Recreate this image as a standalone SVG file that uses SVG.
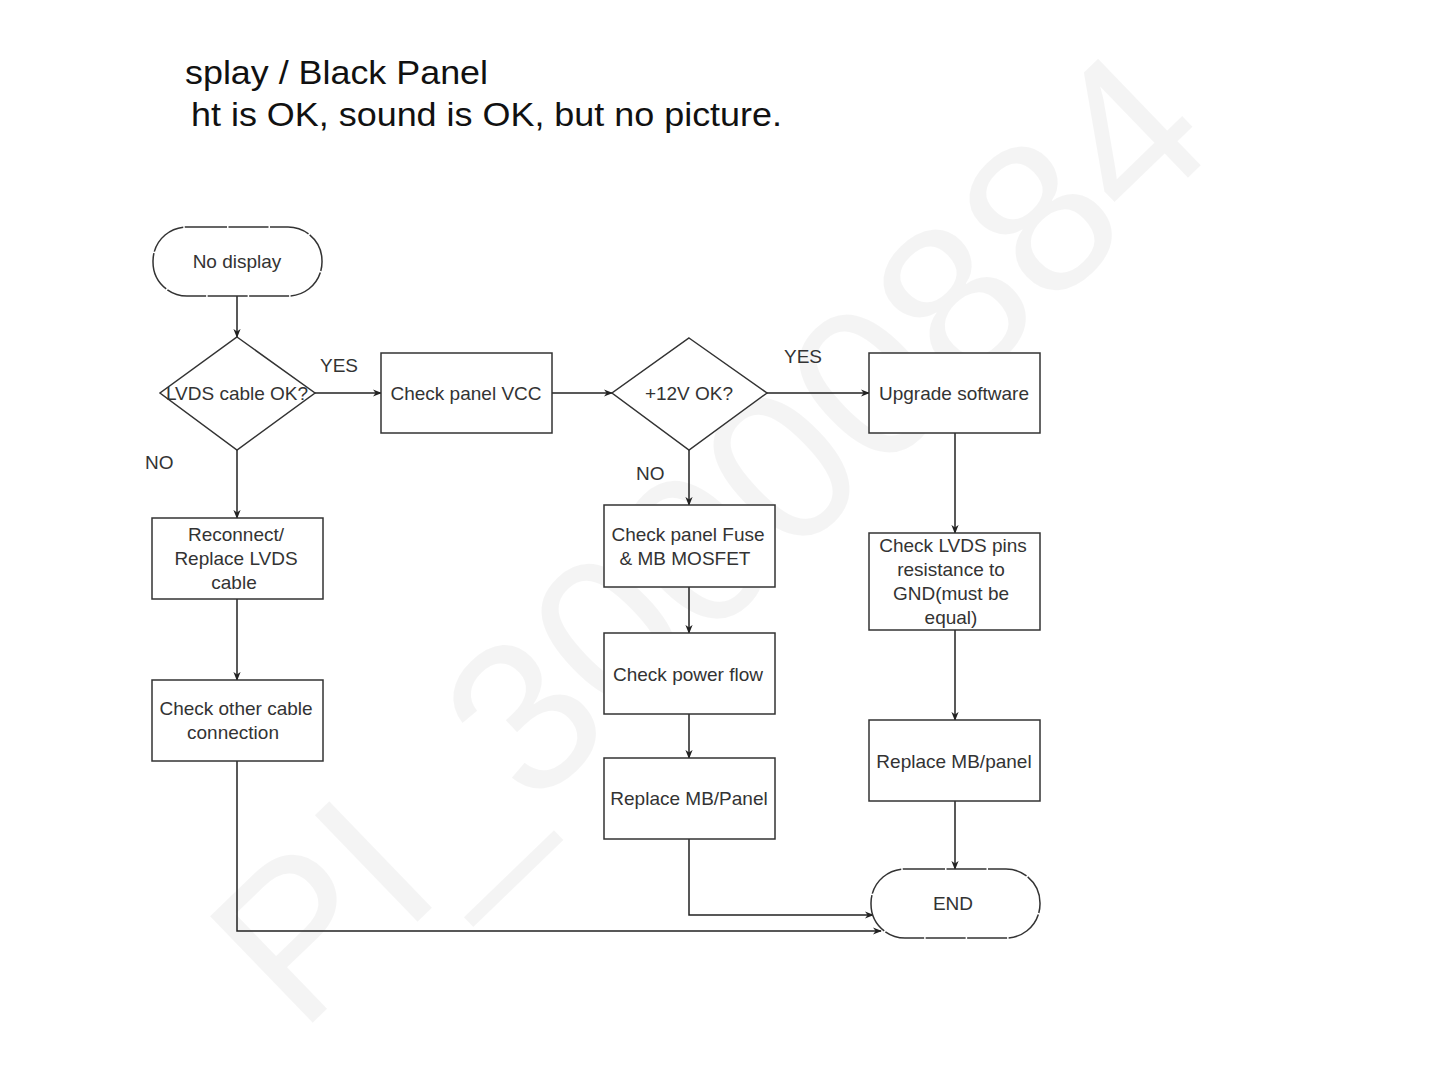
<svg xmlns="http://www.w3.org/2000/svg" width="1440" height="1080" viewBox="0 0 1440 1080">
<defs>
<marker id="arr" viewBox="0 0 10 10" refX="9" refY="5" markerWidth="9" markerHeight="9" markerUnits="userSpaceOnUse" orient="auto">
<path d="M0,1 L10,5 L0,9 L3,5 Z" fill="#222"/>
</marker>
<style>
.box{fill:#fff;stroke:#333;stroke-width:1.5}
.term{fill:#fff;stroke:#333;stroke-width:1.5;stroke-dasharray:40 1.5}
.t{font-family:"Liberation Sans",Arial,sans-serif;font-size:19px;fill:#333;text-anchor:middle}
.lbl{font-family:"Liberation Sans",Arial,sans-serif;font-size:19px;fill:#333}
.c{fill:none;stroke:#222;stroke-width:1.5}
.title{font-family:"Liberation Sans",Arial,sans-serif;font-size:34px;fill:#111}
</style>
</defs>
<rect width="1440" height="1080" fill="#fff"/>
<text x="300" y="1035" transform="rotate(-44 300 1035)" font-family="Liberation Sans,Arial,sans-serif" font-size="215" fill="#000" fill-opacity="0.045">PI_30000884</text>
<text class="title" x="185" y="84" textLength="303" lengthAdjust="spacingAndGlyphs">splay / Black Panel</text>
<text class="title" x="191" y="126" textLength="591" lengthAdjust="spacingAndGlyphs">ht is OK, sound is OK, but no picture.</text>

<g id="connectors">
<path class="c" d="M237,296 V337" marker-end="url(#arr)"/>
<path class="c" d="M315,393 H381" marker-end="url(#arr)"/>
<path class="c" d="M552,393 H612" marker-end="url(#arr)"/>
<path class="c" d="M767,393 H869" marker-end="url(#arr)"/>
<path class="c" d="M237,450 V518" marker-end="url(#arr)"/>
<path class="c" d="M237,599 V680" marker-end="url(#arr)"/>
<path class="c" d="M237,761 V931 H881" marker-end="url(#arr)"/>
<path class="c" d="M689,450 V505" marker-end="url(#arr)"/>
<path class="c" d="M689,587 V633" marker-end="url(#arr)"/>
<path class="c" d="M689,714 V758" marker-end="url(#arr)"/>
<path class="c" d="M689,839 V915 H873" marker-end="url(#arr)"/>
<path class="c" d="M955,433 V533" marker-end="url(#arr)"/>
<path class="c" d="M955,630 V720" marker-end="url(#arr)"/>
<path class="c" d="M955,801 V869" marker-end="url(#arr)"/>
<text class="lbl" x="320" y="372">YES</text>
<text class="lbl" x="784" y="363">YES</text>
<text class="lbl" x="145" y="469">NO</text>
<text class="lbl" x="636" y="480">NO</text>
</g>

<g id="n-start">
<rect class="term" x="153" y="227" width="169" height="69" rx="34" ry="34"/>
<text class="t" x="237" y="268">No display</text>
</g>
<g id="n-lvds">
<path class="box" d="M237,337 L315,393 L237,450 L160,393 Z"/>
<text class="t" x="237" y="400">LVDS cable OK?</text>
</g>
<g id="n-vcc">
<rect class="box" x="381" y="353" width="171" height="80"/>
<text class="t" x="466" y="400">Check panel VCC</text>
</g>
<g id="n-12v">
<path class="box" d="M689,338 L767,393 L689,450 L612,393 Z"/>
<text class="t" x="689" y="400">+12V OK?</text>
</g>
<g id="n-upgrade">
<rect class="box" x="869" y="353" width="171" height="80"/>
<text class="t" x="954" y="400">Upgrade software</text>
</g>
<g id="n-reconnect">
<rect class="box" x="152" y="518" width="171" height="81"/>
<text class="t" x="236" y="541">Reconnect/</text>
<text class="t" x="236" y="565">Replace LVDS</text>
<text class="t" x="234" y="589">cable</text>
</g>
<g id="n-other">
<rect class="box" x="152" y="680" width="171" height="81"/>
<text class="t" x="236" y="715">Check other cable</text>
<text class="t" x="233" y="739">connection</text>
</g>
<g id="n-fuse">
<rect class="box" x="604" y="505" width="171" height="82"/>
<text class="t" x="688" y="541">Check panel Fuse</text>
<text class="t" x="685" y="565">&amp; MB MOSFET</text>
</g>
<g id="n-power">
<rect class="box" x="604" y="633" width="171" height="81"/>
<text class="t" x="688" y="681">Check power flow</text>
</g>
<g id="n-replace1">
<rect class="box" x="604" y="758" width="171" height="81"/>
<text class="t" x="689" y="805">Replace MB/Panel</text>
</g>
<g id="n-pins">
<rect class="box" x="869" y="533" width="171" height="97"/>
<text class="t" x="953" y="552">Check LVDS pins</text>
<text class="t" x="951" y="576">resistance to</text>
<text class="t" x="951" y="600">GND(must be</text>
<text class="t" x="951" y="624">equal)</text>
</g>
<g id="n-replace2">
<rect class="box" x="869" y="720" width="171" height="81"/>
<text class="t" x="954" y="768">Replace MB/panel</text>
</g>
<g id="n-end">
<rect class="term" x="871" y="869" width="169" height="69" rx="34" ry="34"/>
<text class="t" x="953" y="910">END</text>
</g>
</svg>
